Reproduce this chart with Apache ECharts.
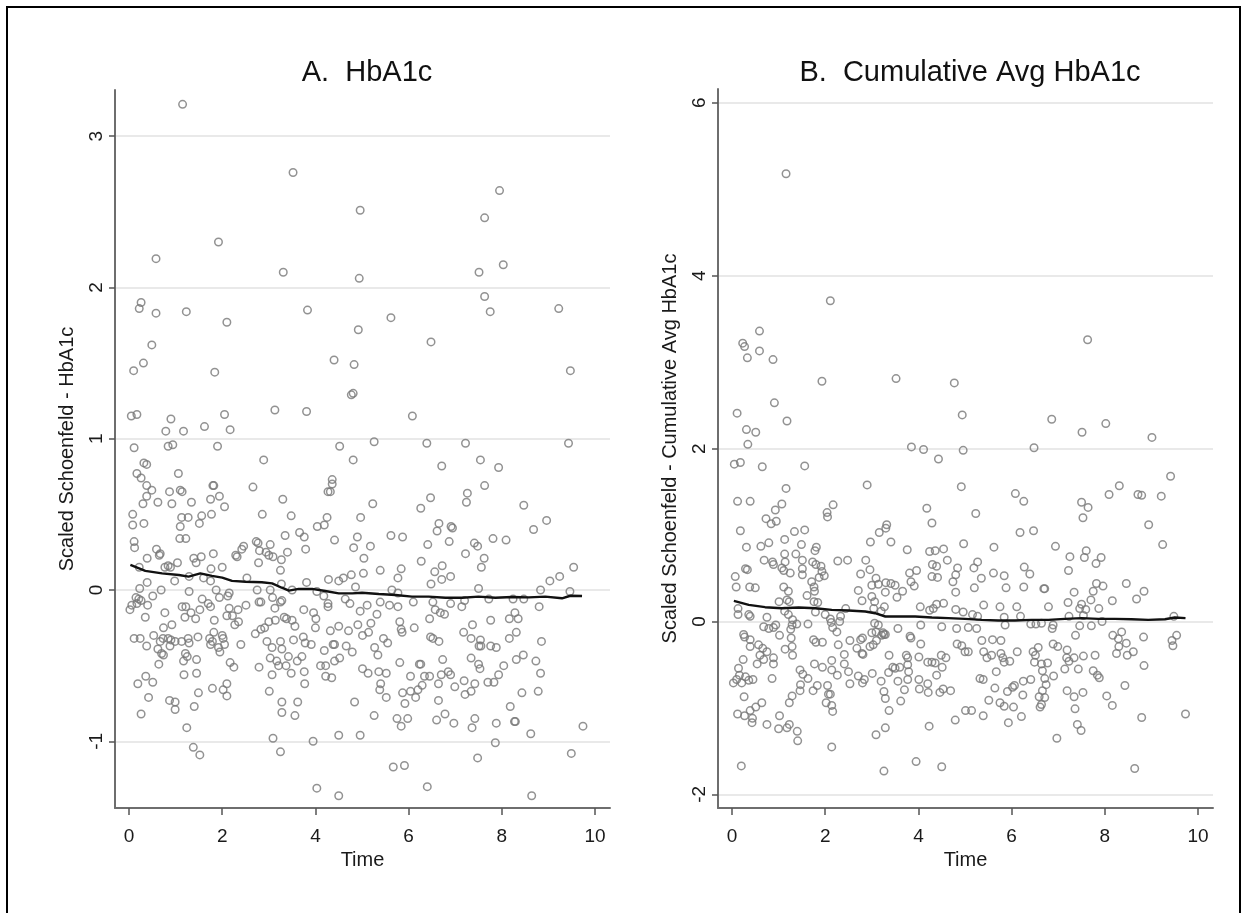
<!DOCTYPE html>
<html>
<head>
<meta charset="utf-8">
<script src="https://cdn.jsdelivr.net/npm/echarts@6/dist/echarts.min.js"></script>
<style>
  html, body { margin: 0; padding: 0; background: #fff; }
  #chart { width: 1246px; height: 913px; }
</style>
</head>
<body>
<div id="chart"></div>
<script>
// ---------- Data ----------
const titleA = "A.  HbA1c";
const titleB = "B.  Cumulative Avg HbA1c";
const yNameA = "Scaled Schoenfeld - HbA1c";
const yNameB = "Scaled Schoenfeld - Cumulative Avg HbA1c";
const xName = "Time";
const xTicks = [0, 2, 4, 6, 8, 10];
const yTicksA = [-1, 0, 1, 2, 3];
const yTicksB = [-2, 0, 2, 4, 6];

// Panel A: scaled Schoenfeld residuals [time, residual]
const pointsA = [
[1.15,3.21],[3.52,2.76],[4.96,2.51],[1.92,2.30],[0.58,2.19],[3.31,2.10],[4.94,2.06],[0.26,1.90],[0.22,1.86],[0.58,1.83],[1.23,1.84],[3.83,1.85],[2.10,1.77],[4.92,1.72],[0.49,1.62],[0.31,1.50],[0.10,1.45],[1.84,1.44],[4.40,1.52],[4.83,1.49],[4.77,1.29],[4.81,1.30],[0.05,1.15],[0.17,1.16],[0.90,1.13],[0.79,1.05],[1.17,1.05],[1.62,1.08],[2.05,1.16],[2.17,1.06],[3.13,1.19],[3.81,1.18],[0.11,0.94],[0.84,0.95],[0.94,0.96],[1.90,0.95],[4.52,0.95],
[7.95,2.64],[7.63,2.46],[8.03,2.15],[7.51,2.10],[7.63,1.94],[7.75,1.84],[9.22,1.86],[5.62,1.80],[6.48,1.64],[9.47,1.45],[6.08,1.15],[5.26,0.98],[6.39,0.97],[7.22,0.97],[9.43,0.97],
[2.89,0.86],[4.81,0.86],[0.32,0.84],[0.38,0.83],[0.17,0.77],[1.06,0.77],[0.26,0.74],[0.38,0.69],[0.49,0.66],[0.38,0.62],[0.87,0.65],[1.10,0.66],[1.14,0.65],[1.82,0.69],[1.80,0.69],[2.66,0.68],[4.36,0.73],[4.36,0.70],[4.27,0.65],[4.32,0.65],[0.30,0.57],[0.62,0.58],[0.92,0.57],[1.34,0.58],[1.75,0.60],[1.94,0.62],[2.05,0.55],[3.30,0.60],[0.08,0.50],[0.08,0.43],[0.32,0.44],[1.13,0.48],[1.27,0.48],[1.10,0.42],[1.56,0.49],[1.51,0.44],[1.77,0.50],[2.86,0.50],[3.48,0.49],[4.04,0.42],[4.19,0.43],[4.25,0.48],[4.97,0.48],[0.11,0.32],[0.12,0.28],[1.09,0.34],[1.22,0.34],[3.35,0.36],[3.66,0.38],[3.76,0.35],[4.41,0.33],[4.90,0.35],[2.73,0.32],[2.77,0.31],[3.03,0.30],[0.59,0.27],[0.67,0.24],[0.65,0.23],[2.42,0.27],[2.46,0.29],[2.29,0.23],[2.32,0.22],[2.80,0.26],[2.94,0.25],[3.00,0.23],[3.09,0.22],[3.40,0.25],[3.79,0.27],[1.81,0.24],[4.82,0.28],[5.04,0.21],[0.39,0.21],[0.22,0.15],[0.77,0.15],[0.84,0.16],[0.89,0.15],[1.04,0.18],[1.39,0.21],[1.55,0.22],[1.44,0.18],[1.76,0.14],[2.00,0.15],[2.78,0.18],[3.27,0.20],[3.25,0.13],[1.29,0.09],[0.98,0.06],[1.60,0.08],[1.75,0.06],[2.53,0.08],[0.39,0.05],[0.69,0.00],[0.51,-0.04],
[0.23,0.01],[0.15,-0.05],[0.21,-0.06],[0.26,-0.07],[0.17,-0.09],[0.02,-0.13],[0.06,-0.10],
[0.40,-0.10],[0.35,-0.18],[1.29,-0.01],[1.57,-0.06],[1.87,-0.00],[1.94,-0.05],[2.15,-0.02],[2.12,-0.04],[1.70,-0.09],[1.75,-0.11],[1.14,-0.11],[1.22,-0.11],[1.33,-0.15],[1.20,-0.18],[1.43,-0.19],[1.52,-0.13],[0.77,-0.15],[1.83,-0.20],[2.15,-0.12],[2.10,-0.17],[2.34,-0.13],[2.22,-0.17],[2.35,-0.21],[2.27,-0.23],[2.51,-0.10],[2.75,0.00],[2.79,-0.08],[2.83,-0.08],[3.03,-0.00],[3.08,-0.05],[3.28,-0.07],[3.25,-0.08],[3.13,-0.12],[3.27,0.04],[3.50,0.00],[3.81,0.05],[3.75,-0.13],[3.96,-0.15],[4.01,-0.19],[4.00,-0.25],[4.18,-0.04],[4.27,-0.09],[4.27,-0.11],[4.03,-0.01],[4.28,0.07],[4.50,0.06],[4.60,0.08],[4.77,0.10],[4.86,0.02],[4.64,-0.06],[4.74,-0.09],[4.96,-0.14],[5.03,0.11],[3.00,-0.21],[3.14,-0.20],[3.33,-0.18],[3.38,-0.19],[3.50,-0.20],[3.56,-0.24],[2.83,-0.26],[2.91,-0.25],[2.71,-0.29],[0.11,-0.32],[0.24,-0.32],[0.38,-0.37],[0.53,-0.30],[0.74,-0.25],[0.73,-0.32],[0.67,-0.34],[0.62,-0.39],[0.70,-0.42],[0.74,-0.43],[0.92,-0.23],[0.84,-0.32],[0.90,-0.33],[0.99,-0.34],[1.13,-0.34],[1.27,-0.32],[1.29,-0.35],[1.48,-0.31],[0.88,-0.37],[1.21,-0.42],[1.25,-0.44],[1.17,-0.47],[1.45,-0.46],[0.64,-0.49],[1.18,-0.56],[1.45,-0.55],[1.73,-0.32],[1.75,-0.36],[1.82,-0.28],[1.79,-0.34],[2.00,-0.30],[2.02,-0.32],[1.92,-0.38],[1.95,-0.41],[2.05,-0.36],[2.40,-0.36],[2.17,-0.48],[2.25,-0.51],[2.79,-0.51],[2.96,-0.34],[3.07,-0.38],[3.25,-0.34],[3.28,-0.39],[3.03,-0.45],[3.17,-0.47],[3.21,-0.50],[3.37,-0.50],[3.42,-0.44],[3.48,-0.55],[3.61,-0.47],[3.71,-0.44],[3.07,-0.56],[3.53,-0.33],[3.74,-0.31],[3.78,-0.35],[3.91,-0.36],[3.76,-0.54],[3.77,-0.62],[4.19,-0.40],[4.38,-0.36],[4.41,-0.36],[4.50,-0.24],[4.71,-0.27],[4.91,-0.23],[5.01,-0.30],[4.66,-0.37],[4.79,-0.41],[4.32,-0.27],[4.41,-0.47],[4.52,-0.45],[4.11,-0.50],[4.22,-0.50],[4.22,-0.57],[4.35,-0.58],[5.01,-0.52],[0.19,-0.62],[0.36,-0.57],[0.51,-0.61],[0.42,-0.71],[0.26,-0.82],[0.87,-0.73],[0.99,-0.74],[0.99,-0.79],[1.40,-0.77],[1.49,-0.68],[1.79,-0.65],[2.02,-0.66],[2.10,-0.62],[2.10,-0.70],[3.01,-0.67],[3.28,-0.74],[3.28,-0.81],[3.62,-0.74],[3.56,-0.83],[4.84,-0.74],[1.24,-0.91],[3.09,-0.98],[3.25,-1.07],[3.95,-1.00],[4.50,-0.96],[4.96,-0.96],[1.38,-1.04],[1.52,-1.09],[4.03,-1.31],[4.50,-1.36],
[6.71,0.82],[7.54,0.86],[7.93,0.81],[7.63,0.69],[6.47,0.61],[7.26,0.64],[7.24,0.58],[6.26,0.54],[5.23,0.57],[8.47,0.56],[8.96,0.46],[8.68,0.40],[6.65,0.44],[6.61,0.39],[6.91,0.42],[6.94,0.41],[5.62,0.36],[5.87,0.35],[6.41,0.30],[6.87,0.32],[7.41,0.31],[7.48,0.29],[7.81,0.34],[8.09,0.33],[5.18,0.29],[7.22,0.24],[7.62,0.21],[7.56,0.15],[6.27,0.19],[5.39,0.13],[5.84,0.14],[5.77,0.08],[6.56,0.12],[6.72,0.16],[6.71,0.07],[6.90,0.09],[6.48,0.04],[9.03,0.06],[9.24,0.09],[9.54,0.15],[5.64,0.00],[5.77,-0.02],[7.50,0.01],[8.83,-0.00],[9.46,-0.01],[5.11,-0.10],[5.39,-0.08],[5.59,-0.10],[5.77,-0.11],[6.10,-0.08],[6.52,-0.08],[6.90,-0.09],[7.14,-0.11],[7.20,-0.07],[7.72,-0.06],[8.24,-0.06],[8.47,-0.06],[8.80,-0.11],[5.32,-0.16],[6.57,-0.13],[6.68,-0.15],[6.77,-0.16],[6.45,-0.19],[5.81,-0.21],[5.84,-0.26],[5.86,-0.28],[5.19,-0.22],[5.14,-0.28],[6.12,-0.25],[7.37,-0.23],[7.76,-0.20],[8.16,-0.19],[8.28,-0.15],[8.35,-0.19],[8.31,-0.28],[8.16,-0.32],[7.18,-0.28],[7.34,-0.32],[7.54,-0.33],[7.51,-0.37],[7.55,-0.37],[7.76,-0.37],[7.88,-0.38],[8.85,-0.34],[5.46,-0.32],[5.55,-0.35],[6.47,-0.31],[6.52,-0.32],[6.65,-0.34],[5.27,-0.38],[5.34,-0.43],[5.81,-0.48],[6.23,-0.49],[6.26,-0.49],[6.73,-0.46],[7.34,-0.45],[7.50,-0.49],[7.53,-0.52],[8.31,-0.46],[8.46,-0.43],[8.73,-0.47],[8.04,-0.50],[7.93,-0.56],[5.13,-0.55],[5.36,-0.54],[5.52,-0.55],[6.04,-0.57],[6.34,-0.57],[6.45,-0.57],[6.70,-0.56],[6.85,-0.54],[6.90,-0.56],[8.83,-0.55],[5.40,-0.62],[5.38,-0.66],[5.52,-0.71],[5.87,-0.68],[5.92,-0.75],[6.04,-0.67],[6.15,-0.71],[6.20,-0.66],[6.29,-0.63],[6.64,-0.62],[6.64,-0.73],[6.99,-0.64],[7.19,-0.60],[7.21,-0.69],[7.34,-0.67],[7.42,-0.62],[7.70,-0.61],[7.83,-0.61],[8.43,-0.68],[8.78,-0.67],[5.26,-0.83],[5.75,-0.85],[5.84,-0.90],[5.98,-0.85],[6.60,-0.86],[6.78,-0.82],[6.97,-0.88],[7.42,-0.85],[7.36,-0.91],[7.88,-0.88],[8.18,-0.77],[8.27,-0.87],[8.29,-0.87],[8.62,-0.95],[9.74,-0.90],[7.86,-1.01],[7.48,-1.11],[9.49,-1.08],[5.67,-1.17],[5.91,-1.16],[6.40,-1.30],[8.64,-1.36]
];

// Panel A: smoothed line
const smoothA = [
[0.03,0.166],[0.35,0.126],[0.71,0.110],[1.07,0.099],[1.28,0.088],[1.53,0.110],[1.78,0.093],[2.00,0.082],[2.21,0.060],[2.50,0.055],[2.85,0.051],[3.07,0.044],[3.28,0.015],[3.43,-0.004],[3.64,0.007],[3.93,0.007],[4.21,-0.007],[4.50,-0.022],[4.79,-0.022],[5.00,-0.018],[5.36,-0.026],[5.72,-0.033],[6.07,-0.044],[6.43,-0.044],[6.79,-0.051],[7.15,-0.051],[7.50,-0.044],[7.86,-0.051],[8.22,-0.046],[8.58,-0.049],[8.93,-0.044],[9.29,-0.055],[9.47,-0.038],[9.72,-0.040]
];

// Panel B: scaled Schoenfeld residuals [time, residual]
const pointsB = [
[1.16,5.18],[2.11,3.71],[0.59,3.36],[0.23,3.22],[0.27,3.18],[0.59,3.13],[0.33,3.05],[0.88,3.03],[1.93,2.78],[3.52,2.81],[4.77,2.76],[0.91,2.53],[0.11,2.41],[4.94,2.39],[1.18,2.32],[0.31,2.22],[0.51,2.19],[0.34,2.05],[3.85,2.02],[4.11,1.99],[4.96,1.98],
[7.63,3.26],[6.86,2.34],[7.51,2.19],[8.02,2.29],[9.01,2.13],[6.48,2.01],
[0.05,1.82],[0.18,1.84],[0.65,1.79],[1.56,1.80],[4.43,1.88],[2.90,1.58],[4.92,1.56],[1.16,1.54],[0.12,1.39],[0.39,1.39],[1.07,1.36],[0.93,1.29],[2.17,1.35],[2.04,1.26],[2.05,1.21],[4.18,1.31],[0.73,1.19],[0.84,1.13],[0.95,1.16],[4.29,1.14],[0.18,1.05],[1.34,1.04],[1.56,1.06],[3.16,1.03],[3.30,1.08],[3.32,1.12],[2.97,0.92],[3.41,0.92],[1.13,0.95],[4.97,0.90],[0.31,0.86],[0.62,0.87],[0.79,0.91],[1.49,0.89],[1.78,0.82],[1.81,0.86],[3.76,0.83],[4.24,0.81],[4.36,0.82],[4.54,0.84],[1.13,0.78],[0.69,0.71],[0.87,0.69],[0.89,0.66],[1.14,0.69],[1.07,0.62],[1.11,0.59],[1.25,0.56],[1.37,0.78],[1.51,0.71],[1.51,0.61],[1.51,0.54],[1.73,0.69],[1.80,0.66],[1.91,0.64],[1.93,0.58],[1.98,0.53],[1.87,0.51],[2.27,0.70],[2.48,0.71],[2.87,0.71],[2.76,0.55],[2.96,0.60],[3.09,0.50],[3.00,0.42],[3.14,0.43],[3.30,0.45],[3.41,0.44],[3.50,0.42],[3.29,0.34],[3.81,0.56],[3.96,0.59],[3.91,0.41],[3.84,0.46],[4.30,0.66],[4.39,0.64],[4.29,0.52],[4.41,0.51],[4.62,0.71],[4.84,0.62],[4.80,0.54],[4.74,0.46],[4.80,0.34],[0.07,0.52],[0.09,0.40],[0.29,0.61],[0.33,0.60],[0.38,0.40],[0.50,0.39],[1.11,0.40],[1.21,0.35],[1.61,0.30],[1.71,0.46],[1.76,0.40],[1.77,0.35],[2.71,0.36],[3.54,0.28],[3.66,0.35],[2.79,0.24],[3.00,0.29],[3.06,0.23],[0.13,0.15],[0.13,0.08],[0.36,0.08],[0.39,0.06],[1.01,0.23],[1.18,0.25],[1.23,0.23],[1.76,0.23],[1.84,0.22],[1.79,0.11],[2.44,0.15],[2.00,0.08],[2.11,0.03],[2.13,-0.01],[2.16,-0.07],[2.25,-0.12],[2.33,0.06],[2.31,-0.00],[3.04,0.15],[3.20,0.12],[3.27,0.17],[3.06,-0.02],[3.14,-0.04],[3.09,-0.12],[3.00,-0.13],[3.24,-0.13],[3.29,-0.15],[4.04,0.17],[4.24,0.13],[4.32,0.15],[4.39,0.20],[4.54,0.21],[4.80,0.14],[4.96,0.11],[0.75,0.05],[0.68,-0.06],[0.79,-0.08],[0.94,-0.04],[0.89,-0.07],[1.13,0.12],[1.21,0.08],[1.30,0.02],[1.29,-0.04],[1.39,-0.03],[1.26,-0.09],[1.63,-0.03],[3.56,-0.08],[4.05,-0.04],[4.50,-0.06],[4.82,-0.08],[5.07,-0.07],[0.25,-0.15],[0.27,-0.18],[0.39,-0.21],[0.39,-0.29],[1.02,-0.16],[1.27,-0.19],[1.29,-0.29],[1.30,-0.39],[1.14,-0.32],[1.75,-0.21],[1.80,-0.24],[1.94,-0.24],[2.28,-0.27],[2.53,-0.22],[2.68,-0.31],[2.76,-0.21],[2.80,-0.19],[2.79,-0.37],[2.81,-0.38],[2.96,-0.29],[3.03,-0.27],[3.10,-0.22],[3.21,-0.16],[3.26,-0.15],[3.82,-0.17],[3.84,-0.19],[4.05,-0.26],[4.83,-0.26],[4.93,-0.28],[5.00,-0.35],[5.07,-0.35],[0.57,-0.27],[0.66,-0.31],[0.75,-0.35],[0.60,-0.39],[0.68,-0.44],[0.54,-0.49],[0.89,-0.42],[0.89,-0.49],[0.24,-0.44],[0.14,-0.54],[0.16,-0.62],[0.10,-0.67],[0.03,-0.71],[0.21,-0.71],[0.36,-0.68],[0.45,-0.67],[0.29,-0.64],[0.26,-0.87],[0.86,-0.66],[1.46,-0.56],[1.52,-0.61],[1.63,-0.66],[1.47,-0.73],[1.46,-0.80],[1.77,-0.49],[1.94,-0.53],[2.14,-0.45],[2.14,-0.56],[2.41,-0.38],[2.41,-0.49],[2.50,-0.58],[2.26,-0.62],[1.74,-0.80],[1.83,-0.74],[2.05,-0.74],[2.07,-0.84],[2.11,-0.84],[2.02,-0.94],[2.14,-0.97],[2.16,-1.04],[2.53,-0.72],[2.71,-0.63],[2.80,-0.71],[2.84,-0.67],[3.01,-0.60],[3.20,-0.69],[3.26,-0.81],[3.29,-0.89],[3.37,-0.39],[3.36,-0.59],[3.45,-0.53],[3.50,-0.54],[3.60,-0.53],[3.56,-0.69],[3.74,-0.39],[3.77,-0.42],[3.77,-0.50],[3.79,-0.58],[3.77,-0.67],[3.70,-0.79],[3.62,-0.92],[3.37,-1.03],[3.29,-1.23],[3.09,-1.31],[4.01,-0.41],[4.20,-0.47],[4.29,-0.47],[4.36,-0.48],[4.49,-0.39],[4.59,-0.42],[4.51,-0.53],[4.39,-0.62],[4.01,-0.67],[4.20,-0.72],[4.02,-0.78],[4.21,-0.82],[4.46,-0.82],[4.53,-0.78],[4.69,-0.80],[4.23,-1.21],[4.79,-1.14],[5.01,-1.03],[0.12,-1.07],[0.27,-1.09],[0.39,-1.03],[0.44,-1.12],[0.51,-0.99],[0.43,-1.17],[0.64,-0.94],[0.75,-1.19],[1.00,-1.24],[1.02,-1.09],[1.18,-1.23],[1.23,-1.19],[1.40,-1.27],[1.41,-1.38],[1.23,-0.94],[1.29,-0.86],[2.14,-1.45],[0.20,-1.67],[3.26,-1.73],[3.95,-1.62],[4.50,-1.68],
[9.41,1.68],[8.31,1.57],[8.09,1.47],[8.71,1.47],[8.79,1.46],[9.21,1.45],[6.08,1.48],[6.26,1.39],[7.50,1.38],[7.64,1.32],[7.53,1.20],[5.23,1.25],[8.94,1.12],[6.18,1.03],[6.47,1.05],[9.24,0.89],[6.94,0.87],[5.62,0.86],[7.25,0.75],[7.60,0.82],[7.56,0.74],[7.92,0.74],[7.81,0.67],[5.27,0.69],[5.19,0.62],[6.27,0.63],[6.39,0.55],[5.61,0.56],[5.84,0.53],[5.35,0.50],[7.22,0.59],[5.20,0.39],[5.88,0.39],[6.26,0.40],[6.69,0.38],[6.71,0.38],[7.82,0.44],[7.96,0.41],[7.75,0.35],[7.70,0.25],[7.34,0.34],[8.46,0.44],[8.84,0.35],[8.68,0.26],[8.16,0.24],[7.21,0.22],[7.50,0.20],[7.46,0.15],[7.59,0.14],[7.87,0.15],[5.40,0.19],[5.75,0.17],[6.11,0.17],[6.79,0.17],[5.16,0.08],[5.27,0.06],[5.84,0.05],[6.19,0.06],[7.23,0.06],[7.54,0.07],[9.48,0.06],[5.25,-0.08],[5.86,-0.04],[6.41,-0.03],[6.52,-0.03],[6.64,-0.02],[6.89,-0.04],[6.87,-0.08],[7.46,-0.05],[7.71,-0.05],[7.94,0.00],[7.37,-0.16],[8.17,-0.16],[8.36,-0.12],[8.29,-0.20],[8.30,-0.29],[8.25,-0.37],[8.83,-0.18],[9.54,-0.16],[9.44,-0.22],[9.46,-0.28],[8.46,-0.25],[8.61,-0.35],[8.48,-0.39],[8.84,-0.51],[5.36,-0.22],[5.59,-0.21],[5.77,-0.22],[5.40,-0.35],[5.47,-0.42],[5.57,-0.39],[5.77,-0.37],[5.81,-0.42],[5.84,-0.47],[5.96,-0.46],[6.12,-0.35],[6.57,-0.30],[6.46,-0.35],[6.51,-0.39],[6.49,-0.47],[6.64,-0.49],[6.77,-0.48],[6.66,-0.57],[6.89,-0.26],[6.99,-0.29],[7.19,-0.33],[7.18,-0.42],[7.23,-0.46],[7.14,-0.55],[7.34,-0.42],[7.43,-0.55],[7.54,-0.40],[7.79,-0.39],[7.75,-0.57],[7.84,-0.62],[7.88,-0.65],[5.67,-0.58],[5.32,-0.66],[5.39,-0.67],[6.25,-0.69],[6.41,-0.67],[6.06,-0.74],[6.02,-0.76],[5.91,-0.81],[6.24,-0.85],[6.71,-0.66],[6.90,-0.63],[6.74,-0.73],[6.66,-0.80],[6.71,-0.88],[6.59,-0.87],[6.64,-0.96],[6.61,-0.99],[7.19,-0.80],[7.34,-0.87],[7.53,-0.82],[5.64,-0.77],[5.51,-0.91],[5.75,-0.94],[5.84,-0.98],[6.04,-0.99],[5.14,-1.03],[5.39,-1.09],[5.93,-1.17],[6.21,-1.10],[7.36,-1.01],[7.41,-1.19],[7.49,-1.26],[6.97,-1.35],[8.04,-0.86],[8.16,-0.97],[8.43,-0.74],[8.79,-1.11],[9.73,-1.07],[8.64,-1.70]
];

// Panel B: smoothed line
const smoothB = [
[0.04,0.239],[0.36,0.193],[0.71,0.166],[1.07,0.154],[1.43,0.162],[1.79,0.154],[2.14,0.135],[2.50,0.127],[2.86,0.116],[3.07,0.096],[3.29,0.058],[3.57,0.058],[3.93,0.058],[4.29,0.046],[4.64,0.039],[5.00,0.031],[5.36,0.019],[5.71,0.012],[6.07,0.012],[6.43,0.019],[6.79,0.019],[7.14,0.031],[7.50,0.039],[7.86,0.031],[8.21,0.031],[8.57,0.027],[8.93,0.019],[9.29,0.027],[9.50,0.046],[9.73,0.039]
];

// ---------- Chart ----------
const FONT = "'Liberation Sans', Arial, sans-serif";
const chart = echarts.init(document.getElementById('chart'), null, { renderer: 'canvas' });

function xAxisCfg(gridIndex) {
  return {
    type: 'value', gridIndex,
    min: -0.3, max: 10.32,
    name: xName, nameLocation: 'middle', nameGap: 40,
    nameTextStyle: { fontFamily: FONT, fontSize: 20, color: '#1a1a1a' },
    axisLine: { show: true, onZero: false, lineStyle: { color: '#6e6e6e', width: 2 } },
    axisTick: { show: true, length: 7, customValues: xTicks, lineStyle: { color: '#555', width: 1.5 } },
    axisLabel: { customValues: xTicks, fontFamily: FONT, fontSize: 19, color: '#1a1a1a', margin: 19 },
    splitLine: { show: false }
  };
}
function yAxisCfg(gridIndex, min, max, ticks, name) {
  return {
    type: 'value', gridIndex, min, max,
    name, nameLocation: 'middle', nameGap: 38,
    nameTextStyle: { fontFamily: FONT, fontSize: 20, color: '#1a1a1a' },
    axisLine: { show: true, onZero: false, lineStyle: { color: '#6e6e6e', width: 2 } },
    axisTick: { show: true, length: 6, customValues: ticks, lineStyle: { color: '#555', width: 1.5 } },
    axisLabel: { customValues: ticks, rotate: 90, fontFamily: FONT, fontSize: 19, color: '#1a1a1a', margin: 9 },
    splitLine: { show: true, lineStyle: { color: '#e2e2e2', width: 1.5 } }
  };
}
const scatterStyle = { color: 'rgba(0,0,0,0)', borderColor: '#777777', borderWidth: 1.5 };

chart.setOption({
  animation: false,
  backgroundColor: '#ffffff',
  title: [
    { text: titleA, left: 362, top: 53, textAlign: 'center',
      textStyle: { fontFamily: FONT, fontSize: 29, fontWeight: 'normal', color: '#111' } },
    { text: titleB, left: 965, top: 53, textAlign: 'center',
      textStyle: { fontFamily: FONT, fontSize: 29, fontWeight: 'normal', color: '#111' } }
  ],
  grid: [
    { left: 115, top: 90, width: 495, height: 718 },
    { left: 718, top: 89, width: 495, height: 719 }
  ],
  xAxis: [xAxisCfg(0), xAxisCfg(1)],
  yAxis: [
    yAxisCfg(0, -1.441, 3.305, yTicksA, yNameA),
    yAxisCfg(1, -2.157, 6.16, yTicksB, yNameB)
  ],
  graphic: [
    { type: 'rect', shape: { x: 7, y: 7, width: 1233, height: 930 },
      style: { fill: 'none', stroke: '#000', lineWidth: 2 }, z: 100, silent: true }
  ],
  series: [
    { type: 'scatter', xAxisIndex: 0, yAxisIndex: 0, data: pointsA, symbol: 'circle', symbolSize: 7.5, itemStyle: scatterStyle, z: 2 },
    { type: 'line', xAxisIndex: 0, yAxisIndex: 0, data: smoothA, showSymbol: false, symbol: 'none', lineStyle: { color: '#111', width: 2.4 }, z: 3 },
    { type: 'scatter', xAxisIndex: 1, yAxisIndex: 1, data: pointsB, symbol: 'circle', symbolSize: 7.5, itemStyle: scatterStyle, z: 2 },
    { type: 'line', xAxisIndex: 1, yAxisIndex: 1, data: smoothB, showSymbol: false, symbol: 'none', lineStyle: { color: '#111', width: 2.4 }, z: 3 }
  ]
});
</script>
</body>
</html>
